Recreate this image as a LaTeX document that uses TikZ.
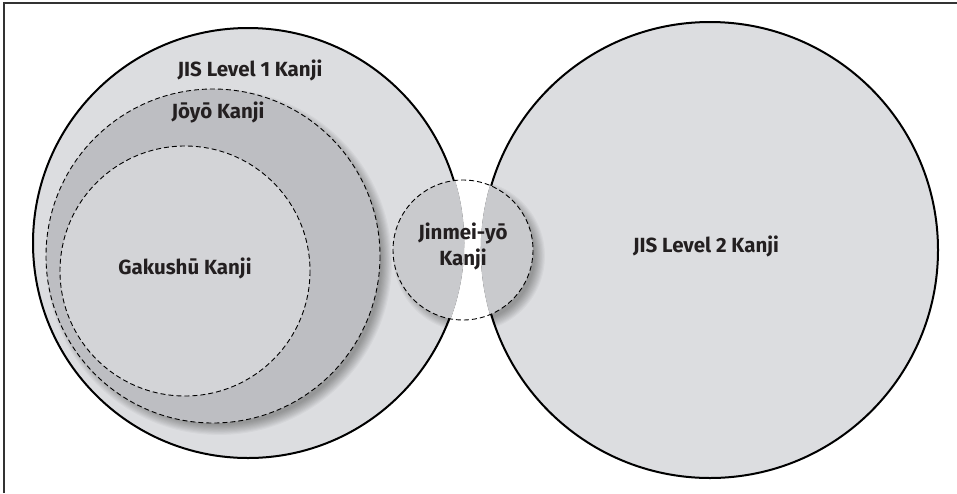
\documentclass[tikz,border=0pt]{standalone}
\usepackage{fontspec}
\setmainfont{Fira Sans}
\definecolor{jisfill}{HTML}{DCDDE0}
\definecolor{joyofill}{HTML}{BDBEC2}
\definecolor{gakufill}{HTML}{D3D4D7}
\definecolor{jinfill}{HTML}{C9CACD}
\definecolor{txt}{HTML}{231F20}
\tikzset{
  jis/.style={fill=jisfill, draw=black, line width=2pt},
  dashcirc/.style={draw=black, line width=0.9pt, dash pattern=on 5pt off 3pt},
  lbl/.style={text=txt, font=\bfseries\fontsize{20.5}{26}\selectfont, align=center, inner sep=0pt},
}
\newcommand{\softshadow}[3]{%
  \foreach \i in {1,...,10}{%
    \fill[black, opacity=0.035] (#1) circle ({#3+7-\i*1.1});
  }%
}
\begin{document}
\begin{tikzpicture}[x=1pt,y=-1pt]
\useasboundingbox (0,0) rectangle (957,493);
\fill[white] (0,0) rectangle (957,493);
\draw[line width=1.6pt, draw=black!80] (4,493) -- (4,3) -- (957,3);
% big circles
\coordinate (c1) at (248,243);
\coordinate (c2) at (710,250);
\coordinate (cjoyo) at (213,256);
\coordinate (cgaku) at (185,271);
\coordinate (cjin) at (463,250);
\path[jis] (c1) circle (215);
\path[jis] (c2) circle (228);
% Joyo shadow and fill
\softshadow{219,262}{}{167}
\fill[joyofill] (cjoyo) circle (167);
\draw[dashcirc] (cjoyo) circle (167);
% Gakushu
\fill[gakufill] (cgaku) circle (125);
\draw[dashcirc] (cgaku) circle (125);
% Jinmei
\begin{scope}
  \clip (c1) circle (216.3) (c2) circle (229.3);
  \softshadow{469,256}{}{70}
  \fill[jinfill] (cjin) circle (70);
\end{scope}
\draw[dashcirc] (cjin) circle (70);
% labels
\node[lbl] (l1) at (250,70) {JIS Level 1 Kanji};
\node[lbl] (l2) at (706,246) {JIS Level 2 Kanji};
\node[lbl] (ljoyo) at (218,112) {Jōyō Kanji};
\node[lbl] (lgaku) at (185,268) {Gakushū Kanji};
\node[lbl] (ljin) at (463,246) {Jinmei-yō\\Kanji};
\end{tikzpicture}
\end{document}
